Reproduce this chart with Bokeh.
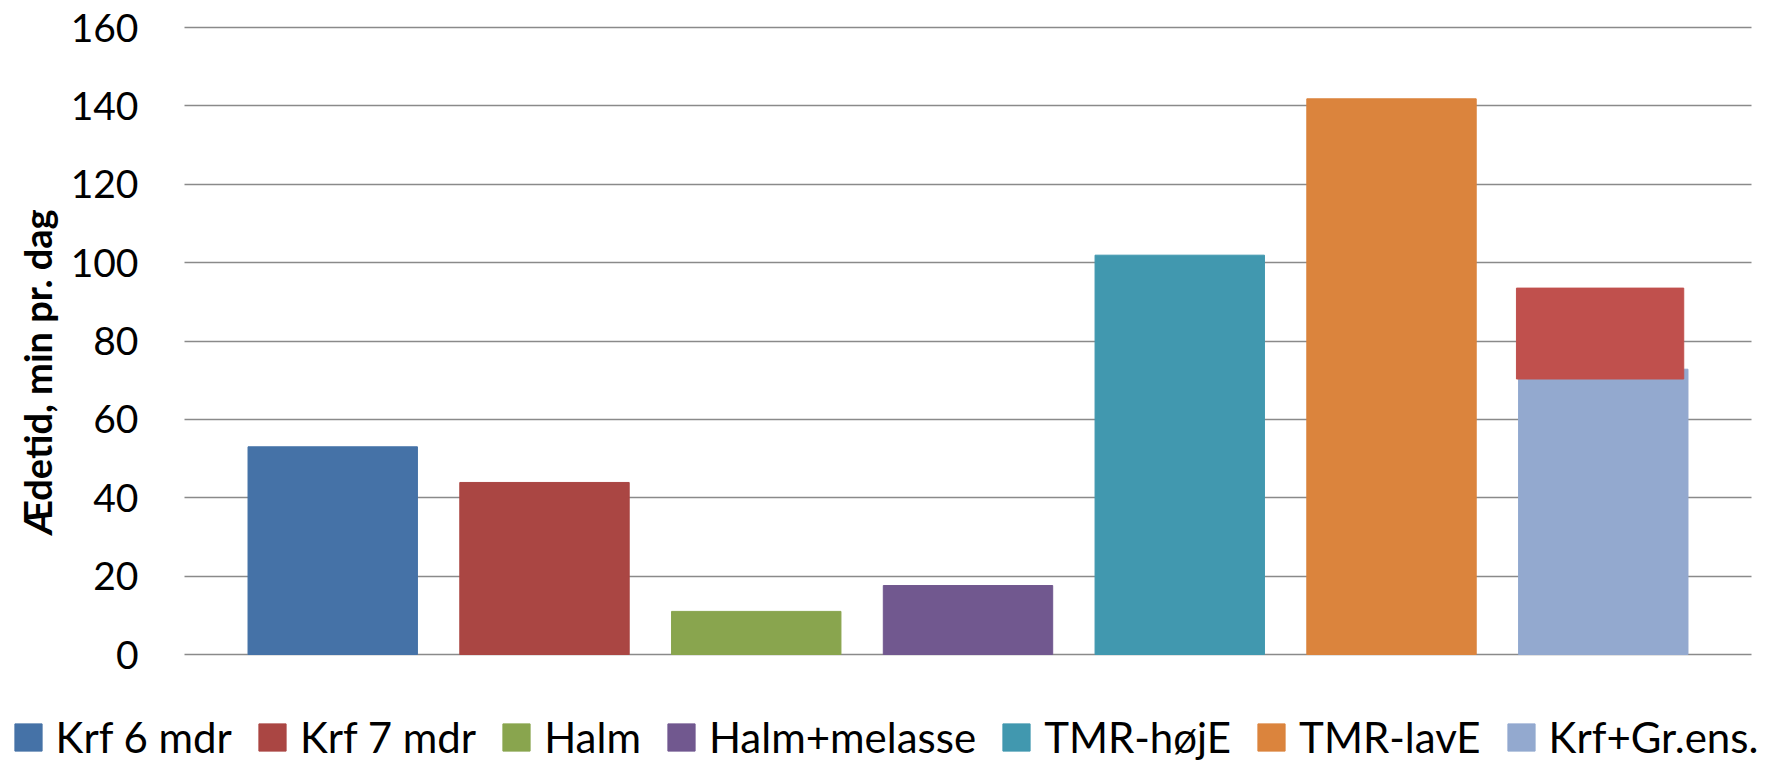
import math
from bokeh.plotting import figure
from bokeh.models import (Range1d, FixedTicker, ColumnDataSource, Legend,
                          LegendItem, Label)
from bokeh.transform import dodge
from bokeh.embed import file_html
from bokeh.resources import INLINE

# ---- data ----
categories = ["Krf 6 mdr", "Krf 7 mdr", "Halm", "Halm+melasse",
              "TMR-højE", "TMR-lavE", "Krf+Gr.ens."]
values = [53.0, 43.9, 11.0, 17.6, 101.9, 141.8, 72.8]
colors = ["#4572A7", "#AA4643", "#89A54E", "#71588F",
          "#4198AF", "#DB843D", "#93A9CF"]

overlay_category = "Krf+Gr.ens."
overlay_bottom = [70.3]
overlay_top = [93.5]
overlay_color = "#C0504D"

y_ticks = [0, 20, 40, 60, 80, 100, 120, 140, 160]
y_label = "Ædetid, min pr. dag"

FONT = "Lato"

# ---- layout (pixels) ----
W, H = 1765, 762
AREA_L, AREA_R = 184, 1751      # plot-area left/right (px)
AREA_T, AREA_B = 27, 654        # y=160 and y=0 (px)
X_LO, X_HI = -0.7, len(categories) - 0.3
Y_LO, Y_HI = 0, 160

ppx = (AREA_R - AREA_L) / (X_HI - X_LO)
ppy = (AREA_B - AREA_T) / (Y_HI - Y_LO)
x_range = Range1d(X_LO - AREA_L / ppx, X_HI + (W - AREA_R) / ppx)
y_range = Range1d(Y_LO - (H - AREA_B) / ppy, Y_HI + AREA_T / ppy)

src = ColumnDataSource(dict(
    x=list(range(len(categories))),
    cat=categories,
    top=values,
    color=colors,
))
ov_src = ColumnDataSource(dict(
    x=[categories.index(overlay_category)],
    bottom=overlay_bottom,
    top=overlay_top,
))

p = figure(width=W, height=H, x_range=x_range, y_range=y_range,
           x_axis_location=None,
           output_backend="svg", toolbar_location=None,
           min_border_left=0, min_border_right=0,
           min_border_top=0, min_border_bottom=0)
p.outline_line_color = None
p.xgrid.visible = False

grid = p.ygrid[0]
grid.ticker = FixedTicker(ticks=y_ticks)
grid.grid_line_color = "#8a8a8a"
grid.grid_line_width = 1.4
if "cross_bounds" in grid.properties():
    grid.cross_bounds = (X_LO, X_HI)
else:
    grid.visible = False
    p.segment(x0=X_LO, x1=X_HI, y0=y_ticks, y1=y_ticks,
              line_color="#8a8a8a", line_width=1.4, level="underlay")

ax = p.yaxis[0]
ax.fixed_location = X_LO
ax.ticker = FixedTicker(ticks=y_ticks)
ax.axis_line_color = None
ax.major_tick_line_color = None
ax.minor_tick_line_color = None
ax.major_tick_out = 0
ax.major_tick_in = 0
ax.major_label_standoff = 46
ax.major_label_text_font = FONT
ax.major_label_text_font_size = "39px"
ax.major_label_text_color = "black"

p.add_layout(Label(x=36, y=H - 535, x_units="screen", y_units="screen",
                   text=y_label, angle=math.pi / 2,
                   text_align="left", text_baseline="alphabetic",
                   text_font=FONT, text_font_size="38px",
                   text_font_style="bold", text_color="black"))

r = p.vbar(x="x", top="top", width=0.8, color="color", source=src)
p.vbar(x=dodge("x", -0.015), bottom="bottom", top="top", width=0.79,
       color=overlay_color, source=ov_src)

items = [LegendItem(label=c, renderers=[r], index=i) for i, c in enumerate(categories)]
legend = Legend(items=items, orientation="horizontal",
                location=(10.6, 0),
                glyph_width=34, glyph_height=34,
                label_standoff=11, spacing=23, padding=0, margin=0,
                label_text_font=FONT, label_text_font_size="42px",
                label_text_color="black",
                border_line_alpha=0, background_fill_alpha=0)
p.add_layout(legend, "center")

open("out.html", "w").write(file_html(p, INLINE))
